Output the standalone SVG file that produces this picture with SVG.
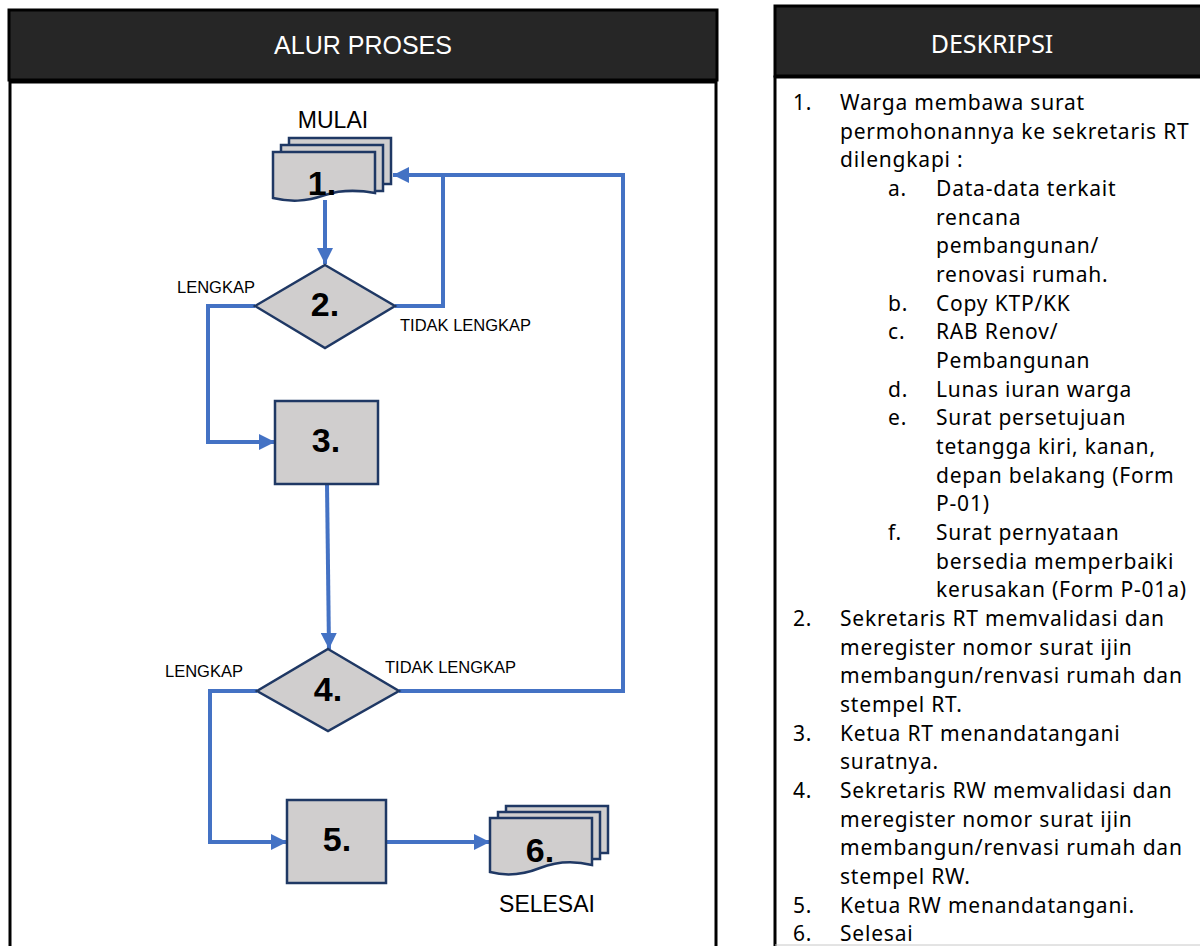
<svg xmlns="http://www.w3.org/2000/svg" width="1200" height="946" viewBox="0 0 1200 946">
<style>
.hdr{fill:#262626;stroke:#000;stroke-width:3}
.body{fill:#fff;stroke:#000;stroke-width:3}
.htxt{font-family:"Liberation Sans",Arial,sans-serif;font-size:25px;fill:#fff;text-anchor:middle}
.dtxt{font-family:"Noto Sans",sans-serif;font-size:25px;fill:#fff;text-anchor:middle}
.shape{fill:#d0cece;stroke:#1f3864;stroke-width:2.5}
.num{font-family:"Liberation Sans",Arial,sans-serif;font-size:34px;font-weight:bold;fill:#000;text-anchor:middle}
.lbl{font-family:"Liberation Sans",Arial,sans-serif;font-size:16.5px;fill:#000}
.big{font-family:"Liberation Sans",Arial,sans-serif;font-size:23px;fill:#000;text-anchor:middle}
.conn{fill:none;stroke:#4472c4;stroke-width:4}
.desc{font-family:"Noto Sans",sans-serif;font-size:21px;letter-spacing:0.8px;fill:#000}
</style>
<defs>
<marker id="arr" markerUnits="userSpaceOnUse" markerWidth="18" markerHeight="16" refX="16" refY="8" orient="auto">
<path d="M0,0 L16,8 L0,16 Z" fill="#4472c4"/>
</marker>
</defs>

<g id="panel-left">
<rect class="body" x="10" y="82" width="706" height="870"/>
<rect class="hdr" x="9" y="10" width="708" height="70"/>
<text class="htxt" x="363" y="54">ALUR PROSES</text>
</g>

<g id="panel-right">
<rect class="body" x="775" y="77" width="430" height="875"/>
<rect class="hdr" x="775" y="6" width="430" height="70"/>
<text class="dtxt" x="992" y="53">DESKRIPSI</text>
<line x1="775" y1="945" x2="1200" y2="945" stroke="#c8c8c8" stroke-width="1"/>
</g>

<g id="connectors">
<path class="conn" d="M325,200 V264" marker-end="url(#arr)"/>
<path class="conn" d="M395,306 H443 V175 H393" marker-end="url(#arr)"/>
<path class="conn" d="M255,306 H208 V442 H275" marker-end="url(#arr)"/>
<path class="conn" d="M327,484 L329,649" marker-end="url(#arr)"/>
<path class="conn" d="M399,691 H623 V175 H443"/>
<path class="conn" d="M257,691 H210 V842 H287" marker-end="url(#arr)"/>
<path class="conn" d="M386,842 H490" marker-end="url(#arr)"/>
</g>

<g id="node1">
<text class="big" x="333" y="128">MULAI</text>
<rect class="shape" x="289" y="138" width="102" height="46"/>
<rect class="shape" x="281" y="145" width="102" height="46"/>
<path class="shape" d="M273,152 H375 V193 C355,189 340,190 325,195 C305,202 290,202 273,198 Z"/>
<text class="num" x="322" y="195">1.</text>
</g>

<g id="node2">
<polygon class="shape" points="325,265 395,306 325,348 255,306"/>
<text class="num" x="325" y="316">2.</text>
<text class="lbl" x="177" y="293">LENGKAP</text>
<text class="lbl" x="400" y="331">TIDAK LENGKAP</text>
</g>

<g id="node3">
<rect class="shape" x="275" y="401" width="103" height="83"/>
<text class="num" x="326" y="452">3.</text>
</g>

<g id="node4">
<polygon class="shape" points="328,649 399,691 328,731 257,691"/>
<text class="num" x="328" y="701">4.</text>
<text class="lbl" x="165" y="677">LENGKAP</text>
<text class="lbl" x="385" y="673">TIDAK LENGKAP</text>
</g>

<g id="node5">
<rect class="shape" x="287" y="800" width="99" height="83"/>
<text class="num" x="337" y="851">5.</text>
</g>

<g id="node6">
<rect class="shape" x="506" y="806" width="102" height="47"/>
<rect class="shape" x="498" y="812" width="102" height="47"/>
<path class="shape" d="M490,818 H592 V865 C572,860 555,862 540,868 C520,876 505,876 490,872 Z"/>
<text class="num" x="540" y="862">6.</text>
<text class="big" x="547" y="912">SELESAI</text>
</g>

<g id="description" class="desc">
<text x="793" y="110">1.</text><text x="840" y="110">Warga membawa surat</text>
<text x="840" y="139">permohonannya ke sekretaris RT</text>
<text x="840" y="167">dilengkapi :</text>
<text x="888" y="196">a.</text><text x="936" y="196">Data-data terkait</text>
<text x="936" y="225">rencana</text>
<text x="936" y="253">pembangunan/</text>
<text x="936" y="282">renovasi rumah.</text>
<text x="888" y="311">b.</text><text x="936" y="311">Copy KTP/KK</text>
<text x="888" y="339">c.</text><text x="936" y="339">RAB Renov/</text>
<text x="936" y="368">Pembangunan</text>
<text x="888" y="397">d.</text><text x="936" y="397">Lunas iuran warga</text>
<text x="888" y="425">e.</text><text x="936" y="425">Surat persetujuan</text>
<text x="936" y="454">tetangga kiri, kanan,</text>
<text x="936" y="483">depan belakang (Form</text>
<text x="936" y="511">P-01)</text>
<text x="888" y="540">f.</text><text x="936" y="540">Surat pernyataan</text>
<text x="936" y="569">bersedia memperbaiki</text>
<text x="936" y="597">kerusakan (Form P-01a)</text>
<text x="793" y="626">2.</text><text x="840" y="626">Sekretaris RT memvalidasi dan</text>
<text x="840" y="655">meregister nomor surat ijin</text>
<text x="840" y="683">membangun/renvasi rumah dan</text>
<text x="840" y="712">stempel RT.</text>
<text x="793" y="741">3.</text><text x="840" y="741">Ketua RT menandatangani</text>
<text x="840" y="769">suratnya.</text>
<text x="793" y="798">4.</text><text x="840" y="798">Sekretaris RW memvalidasi dan</text>
<text x="840" y="827">meregister nomor surat ijin</text>
<text x="840" y="855">membangun/renvasi rumah dan</text>
<text x="840" y="884">stempel RW.</text>
<text x="793" y="913">5.</text><text x="840" y="913">Ketua RW menandatangani.</text>
<text x="793" y="941">6.</text><text x="840" y="941">Selesai</text>
</g>
</svg>
